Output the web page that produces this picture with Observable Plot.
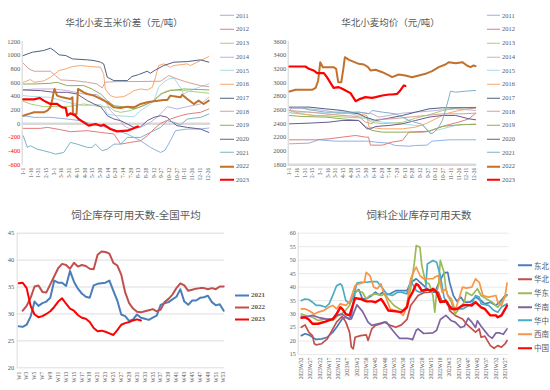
<!DOCTYPE html>
<html><head><meta charset="utf-8">
<script src="https://cdn.jsdelivr.net/npm/d3@7"></script>
<script src="https://cdn.jsdelivr.net/npm/@observablehq/plot@0.6"></script>
<style>
body{margin:0;background:#fff}
#c{position:relative;width:550px;height:390px;overflow:hidden;background:#fff}
.t{position:absolute;font-family:"Noto Sans CJK SC","Noto Sans",sans-serif;color:#595959;white-space:nowrap;transform:translate(-50%,-50%);line-height:1}
.lg{position:absolute;display:flex;align-items:center;white-space:nowrap;color:#595959;transform:translateY(-50%);line-height:1}
.sw{display:inline-block;margin-right:2px}
</style></head><body><div id="c"></div><script>
// ---------- shared labels ----------
const years = ["2011","2012","2013","2014","2015","2016","2017","2018","2019","2020","2021","2022","2023"];
const yearColors = ["#8eb4e3","#e47b7b","#a9cf79","#c2b2dc","#a6dbe9","#f9a86a","#4c5f82","#d5a09a","#8fac5a","#6b5b8e","#7fb2c4","#c1712b","#ff0000"];
const dayTicks = d3.range(0, 361, 15);
const dayLabels = ["1-1","1-16","1-31","2-15","3-1","3-16","3-31","4-15","4-30","5-15","5-30","6-14","6-29","7-14","7-29","8-13","8-28","9-12","9-27","10-12","10-27","11-11","11-26","12-11","12-26"];
const spreadTicks = [-600,-400,-200,0,200,400,600,800,1000,1200];
const priceTicks = [1800,2000,2200,2400,2600,2800,3000,3200,3400,3600];

// ---------- 华北小麦玉米价差 [day, 元/吨] ----------
const sp2011 = [[0,117],[21,93],[53,93],[86,68],[112,44],[138,-15],[164,-54],[183,-102],[203,-151],[229,-249],[248,-346],[268,-420],[277,-385],[287,-249],[297,-102],[320,-78],[346,-78],[362,-63]];
const sp2012 = [[0,-68],[34,-68],[47,-54],[66,-78],[92,-117],[125,-102],[151,-127],[177,-151],[190,-298],[209,-273],[229,-249],[242,-176],[255,-78],[268,5],[287,68],[307,117],[320,141],[346,166],[362,215]];
const sp2013 = [[0,327],[14,288],[40,249],[86,249],[118,288],[151,249],[170,239],[177,190],[190,166],[209,190],[229,249],[255,337],[274,458],[287,493],[313,483],[346,458],[362,444]];
const sp2014 = [[0,493],[21,507],[60,507],[86,483],[118,434],[144,424],[160,337],[170,190],[180,117],[190,44],[196,-29],[209,-78],[229,-54],[248,20],[261,93],[274,190],[281,249],[300,215],[320,249],[346,288],[362,385]];
const sp2015 = [[0,410],[21,395],[53,385],[86,312],[118,263],[151,278],[157,249],[164,141],[183,117],[216,102],[229,190],[248,288],[255,337],[264,532],[274,605],[284,654],[294,668],[307,522],[313,434],[326,483],[346,541],[362,580]];
const sp2016 = [[0,605],[14,644],[21,605],[40,624],[53,678],[70,776],[83,800],[96,834],[112,849],[131,834],[151,824],[157,717],[160,507],[170,410],[180,385],[196,395],[206,434],[216,483],[229,507],[242,493],[252,532],[258,678],[264,849],[274,873],[287,824],[294,849],[320,873],[326,849],[346,922],[362,980]];
const sp2017 = [[0,995],[18,1044],[40,1068],[53,1102],[60,1068],[70,1005],[83,995],[96,946],[125,932],[138,922],[151,898],[157,873],[164,678],[177,629],[203,629],[212,688],[225,717],[242,766],[248,737],[258,785],[274,849],[294,898],[320,907],[346,932],[362,898]];
const sp2018 = [[0,883],[11,800],[21,766],[53,766],[63,702],[73,639],[99,629],[125,605],[144,580],[154,522],[160,605],[183,615],[216,615],[268,620],[281,688],[284,702],[300,654],[320,605],[346,556],[362,541]];
const sp2019 = [[0,580],[21,580],[53,590],[66,605],[86,556],[118,556],[134,507],[151,434],[164,337],[177,263],[203,239],[216,215],[235,263],[255,337],[268,434],[287,483],[313,507],[362,493]];
const sp2020 = [[0,493],[34,483],[60,458],[86,458],[105,434],[125,337],[138,288],[151,249],[157,190],[164,117],[177,68],[190,44],[203,-5],[216,-54],[229,-44],[242,44],[255,93],[268,117],[281,93],[287,44],[300,-29],[320,-54],[346,-78],[362,-127]];
const sp2021 = [[0,-176],[8,-346],[14,-322],[27,-371],[40,-395],[53,-420],[63,-444],[79,-420],[92,-273],[105,-298],[125,-346],[134,-346],[141,-298],[147,-346],[154,-395],[164,-371],[177,-298],[190,-298],[203,-200],[229,-200],[248,-127],[268,-54],[281,44],[294,20],[307,-15],[320,68],[346,93],[362,141]];
const sp2022 = [[0,117],[14,151],[21,166],[40,166],[47,190],[53,239],[57,361],[60,483],[61,507],[66,410],[76,385],[92,361],[96,385],[97,141],[104,141],[107,507],[118,458],[125,434],[138,410],[151,361],[164,312],[177,239],[190,229],[203,249],[216,239],[229,288],[242,312],[255,327],[274,346],[281,346],[287,410],[300,395],[307,385],[310,424],[320,361],[333,288],[342,337],[352,288],[362,337]];
const sp2023 = [[0,356],[21,356],[32,376],[40,337],[53,288],[66,288],[76,239],[83,229],[86,117],[92,151],[102,117],[108,68],[118,20],[128,-29],[141,-5],[151,-29],[157,-15],[170,-78],[183,-112],[203,-102],[212,-78],[222,-44],[224,-44]];
const spreadSeries = [sp2011,sp2012,sp2013,sp2014,sp2015,sp2016,sp2017,sp2018,sp2019,sp2020,sp2021,sp2022,sp2023];

// ---------- 华北小麦均价 [day, 元/吨] ----------
const pr2011 = [[0,2106],[38,2116],[57,2165],[89,2145],[154,2145],[168,2131],[194,2116],[206,2082],[233,2072],[246,2082],[268,2087],[278,2145],[311,2165],[363,2165]];
const pr2012 = [[0,2165],[51,2165],[77,2179],[103,2204],[129,2228],[148,2204],[154,2204],[158,2087],[181,2087],[200,2131],[220,2155],[233,2277],[259,2277],[272,2287],[285,2325],[304,2374],[330,2423],[350,2471],[363,2554]];
const pr2013 = [[0,2560],[25,2540],[51,2520],[103,2500],[148,2480],[161,2420],[181,2400],[220,2420],[246,2480],[272,2530],[298,2590],[324,2630],[363,2640]];
const pr2014 = [[0,2627],[38,2617],[70,2593],[103,2544],[135,2569],[161,2544],[174,2496],[194,2520],[220,2554],[246,2569],[272,2583],[298,2603],[324,2617],[363,2593]];
const pr2015 = [[0,2569],[38,2569],[70,2554],[103,2569],[135,2520],[161,2447],[181,2423],[220,2398],[246,2374],[259,2374],[278,2252],[285,2301],[298,2325],[324,2374],[363,2398]];
const pr2016 = [[0,2593],[25,2544],[44,2520],[70,2520],[103,2554],[135,2544],[151,2520],[155,2350],[181,2325],[220,2325],[246,2350],[265,2398],[285,2471],[304,2544],[330,2593],[363,2632]];
const pr2017 = [[0,2642],[38,2642],[70,2617],[103,2593],[135,2544],[148,2496],[168,2447],[187,2471],[220,2520],[246,2569],[272,2617],[298,2632],[363,2632]];
const pr2018 = [[0,2593],[38,2569],[70,2544],[103,2520],[135,2505],[148,2423],[161,2398],[168,2462],[200,2471],[233,2496],[265,2520],[298,2544],[337,2544],[363,2554]];
const pr2019 = [[0,2520],[25,2505],[70,2496],[103,2471],[135,2447],[148,2360],[161,2301],[181,2277],[233,2277],[272,2291],[298,2360],[337,2389],[363,2389]];
const pr2020 = [[0,2398],[38,2408],[77,2423],[103,2447],[135,2447],[151,2325],[158,2325],[168,2360],[194,2374],[220,2398],[246,2447],[272,2496],[298,2520],[324,2520],[350,2471],[363,2457]];
const pr2021 = [[0,2593],[5,2632],[25,2632],[38,2603],[70,2569],[135,2569],[155,2544],[161,2593],[181,2569],[207,2544],[233,2447],[259,2389],[275,2252],[281,2270],[291,2350],[298,2447],[304,2593],[311,2788],[314,2875],[324,2860],[343,2875],[363,2885]];
const pr2022 = [[0,2870],[12,2895],[44,2895],[51,2924],[56,3031],[60,3298],[65,3225],[86,3225],[91,3201],[95,3006],[101,3006],[105,3201],[108,3371],[116,3332],[135,3274],[145,3264],[153,3225],[158,3177],[168,3187],[181,3152],[194,3104],[200,3079],[213,3118],[226,3104],[239,3079],[252,3104],[265,3128],[278,3167],[291,3225],[304,3264],[311,3298],[324,3284],[337,3298],[346,3250],[353,3225],[359,3250],[363,3240]];
const pr2023 = [[0,3235],[31,3235],[38,3201],[47,3177],[54,3138],[67,3138],[73,3079],[86,2924],[96,2934],[103,2909],[112,2875],[119,2846],[129,2729],[138,2763],[148,2788],[161,2778],[168,2788],[181,2812],[194,2826],[200,2826],[210,2836],[216,2885],[223,2958],[226,2950]];
const priceSeries = [pr2011,pr2012,pr2013,pr2014,pr2015,pr2016,pr2017,pr2018,pr2019,pr2020,pr2021,pr2022,pr2023];

// ---------- 饲企库存可用天数-全国平均 (W1..W53) ----------
const natYears = ["2021","2022","2023"];
const natColors = ["#4a7ebb","#c0504d","#ff0000"];
const blLabels = ["W1","W3","W5","W7","W9","W11","W13","W15","W17","W19","W21","W23","W25","W27","W29","W31","W33","W35","W37","W39","W41","W43","W45","W47","W49","W51","W53"];
const blTicks = [20,25,30,35,40,45];
const nat2021 = [27.7,27.6,28.0,29.5,32.3,31.5,32.0,32.3,33.0,36.2,35.8,35.8,35.2,38.0,36.0,34.7,33.8,33.2,33.0,35.3,35.6,35.7,35.8,36.2,34.3,32.5,29.9,29.6,28.7,29.0,29.9,29.3,29.1,28.9,29.3,29.7,31.7,32.0,32.2,32.7,33.2,34.6,32.3,31.7,32.5,32.5,33.0,33.1,33.4,32.2,31.6,31.8,30.6];
const nat2022 = [null,30.6,31.5,33.0,35.1,35.3,34.1,34.0,35.5,37.0,38.5,39.3,39.1,38.4,39.5,38.8,39.1,38.9,38.4,38.3,41.0,41.6,41.5,41.2,39.5,39.0,37.3,34.0,32.0,31.0,30.4,30.3,30.5,30.7,30.9,30.5,30.8,32.2,32.8,33.6,34.8,35.7,35.3,34.3,34.5,34.7,34.8,34.8,34.6,34.8,34.6,35.1,35.1];
const nat2023 = [35.7,35.8,34.8,31.5,29.9,29.4,29.6,30.0,30.5,31.3,32.3,32.9,31.9,31.0,30.6,29.8,29.3,29.1,28.5,27.4,26.8,26.9,26.7,26.4,26.1,27.0,28.0,28.3,28.5,28.8,29.0,28.8];
const natSeries = [nat2021, nat2022, nat2023];

// ---------- 饲料企业库存可用天数 [week index from 2023W32 backwards, days] ----------
const regions = ["东北","华北","华东","华南","华中","西南","中国"];
const regionColors = ["#4a7ebb","#c0504d","#9bbb59","#8064a2","#4bacc6","#f79646","#ff0000"];
const brLabels = ["2023W32","2023W27","2023W22","2023W17","2023W12","2023W7","2023W2","2022W50","2022W45","2022W40","2022W35","2022W30","2022W25","2022W20","2022W15","2022W10","2022W5","2021W52","2021W47","2021W42","2021W37","2021W32","2021W27"];
const brTicks = [15,20,25,30,35,40,45,50,55,60];
const rgDongbei = [[0,22],[2,22.7],[4,22.3],[6,21.4],[8,20.6],[11,20.8],[14,21.4],[17,23.3],[19,25.1],[22,28.2],[24,28.8],[26,28],[27,29.5],[29,38.1],[31,39.1],[33,35.6],[35,35.6],[38,36.9],[40,38.1],[42,37.1],[44,38.1],[45,37.1],[48,37.5],[51,38.7],[54,38.7],[57,38.7],[59,41.6],[62,43.1],[64,41.8],[67,40],[70,38.1],[72,38.1],[74,41.2],[77,45.3],[79,45.5],[80,41.8],[82,36.9],[84,34.7],[86,36.3],[88,34.4],[91,34.4],[94,36.3],[97,35],[99,33.8],[102,34.4],[105,33.2],[107,34.4],[110,36.9],[111,37.1]];
const rgHuabei = [[0,25.1],[2,26],[4,23.3],[6,22],[7,19],[8,18.6],[11,19],[14,20.8],[17,24.5],[19,27],[22,29.2],[24,27],[26,23.3],[27,17.7],[28,17.1],[29,21.4],[32,22],[35,22.3],[36,20.2],[38,24.5],[40,25.8],[43,26.4],[45,27],[48,25.8],[51,25.1],[54,26],[57,28],[59,33.2],[61,35],[63,36.9],[66,37.9],[69,38.1],[71,38.7],[74,38.1],[76,34.4],[79,34.4],[80,31.3],[83,29.5],[87,28.2],[89,26.4],[92,24.5],[94,23.3],[96,24.5],[97,21.4],[99,21.8],[102,18.3],[104,17.3],[106,18.3],[108,17.7],[110,19],[111,20.2]];
const rgHuadong = [[0,30],[2,29.5],[6,28.8],[9,27.6],[13,28.2],[17,27.6],[20,29.5],[23,30.7],[26,33.2],[28,36.9],[30,38.7],[33,38.1],[35,35.6],[37,36.9],[40,37.5],[43,36.9],[45,37.5],[47,35.6],[50,33.2],[53,31.9],[55,31.3],[57,33.2],[59,39.4],[61,49.2],[62,55.4],[64,54.8],[65,48],[67,41.8],[69,41.2],[71,36.9],[72,30.7],[73,38.1],[74,40.6],[75,49.9],[77,45.5],[78,39.4],[79,36.9],[81,34.4],[83,30],[85,31.9],[88,34.4],[89,38.1],[92,36.9],[95,39.4],[97,36.9],[100,35.6],[103,34.4],[106,32.5],[108,34.4],[110,36.3],[111,36.9]];
const rgHuanan = [[0,29.2],[2,28.8],[6,29.5],[9,28.8],[13,28.2],[17,28],[19,29.5],[22,30],[25,28.5],[27,28.2],[30,33.4],[33,31],[36,27],[38,25.8],[42,26.5],[45,27],[46,27],[48,25],[51,22.5],[53,21],[57,21],[59,20.8],[60,20.5],[62,24],[63,24.5],[66,22.8],[71,23],[73,24],[75,28],[78,29.5],[81,27.5],[83,27],[86,25],[88,25.5],[90,28.5],[92,27],[94,25],[95,27.5],[97,25.5],[101,22],[103,21],[105,23],[107,23],[109,22.5],[111,24.5]];
const rgHuazhong = [[0,35],[2,35.6],[4,35.4],[6,34.4],[8,33.2],[10,33.2],[13,32.6],[15,33.8],[17,37],[19,40.5],[21,41.2],[22,40.5],[24,35],[26,34],[28,36],[30,41.5],[32,41.8],[35,41.8],[38,42],[41,42],[44,39.4],[46,37.5],[49,36.9],[52,38.1],[54,38.1],[57,37.5],[59,42.4],[62,38.7],[64,38.1],[67,38.7],[68,48.6],[71,49.9],[73,49.2],[75,44.3],[77,36.3],[79,33.2],[81,32.6],[84,31.9],[87,31.9],[89,32.6],[92,33.8],[94,36.9],[96,36.3],[97,33.8],[101,33.2],[104,31.3],[106,30.7],[108,32.6],[111,33.8]];
const rgXinan = [[0,31.9],[2,31.9],[4,31.3],[7,30],[9,30.7],[12,31.3],[15,32.6],[17,33.2],[19,31.9],[21,33.8],[24,33.2],[26,34.4],[29,40.6],[31,41.2],[34,41.8],[35,45.5],[37,44.3],[39,40],[41,39.4],[43,41.2],[44,38.7],[46,35.6],[48,31.9],[51,31.3],[53,30.7],[55,29.5],[57,33.2],[59,43.1],[61,46.2],[62,47.4],[64,44.3],[66,43.1],[68,43.1],[71,43.1],[72,43.7],[74,44.3],[76,38.1],[78,39.4],[79,36.9],[81,35.6],[83,31.3],[85,35.6],[87,40],[89,39.6],[92,40],[94,43.1],[96,41.8],[98,36.9],[101,36.3],[105,36.9],[106,34.4],[108,33.2],[110,36.9],[111,41.5]];
const rgChina = [[0,28.6],[2,28.8],[4,28],[6,26.4],[9,26.4],[13,27.2],[17,28.2],[19,30],[21,32.5],[22,32],[24,30],[26,29.5],[28,33.8],[29,35.9],[32,35.6],[35,34.7],[38,34.7],[40,34.4],[43,35.6],[44,34.7],[47,31.3],[51,31],[54,30.7],[57,32.5],[58,35.6],[60,38.1],[62,41.2],[63,40.8],[65,38.7],[68,39.1],[70,38.7],[71,39.4],[73,38.1],[75,34.4],[78,35],[79,33.8],[81,31.9],[84,31.9],[87,33.2],[89,33.4],[92,33.2],[94,34.4],[97,32.5],[99,31.9],[102,29.5],[105,29.5],[106,28.8],[108,29.5],[110,31.9],[111,33.2]];
const regionSeries = [rgDongbei,rgHuabei,rgHuadong,rgHuanan,rgHuazhong,rgXinan,rgChina];

// ---------- helpers ----------
const C = document.getElementById("c");
const SERIF = "'Liberation Serif','DejaVu Serif',serif";
const GREY = "#595959";
const plain = d => String(d);
function place(el, left, top) { el.style.position = "absolute"; el.style.left = left + "px"; el.style.top = top + "px"; C.appendChild(el); }
function title(text, cx, cy, size) {
  const d = document.createElement("div"); d.className = "t"; d.textContent = text;
  d.style.left = cx + "px"; d.style.top = cy + "px"; d.style.fontSize = size + "px"; C.appendChild(d);
}
function legend(names, colors, widths, x, y0, dy, swW, font, size, weight) {
  names.forEach((n, i) => {
    const d = document.createElement("div"); d.className = "lg";
    d.style.left = x + "px"; d.style.top = (y0 + i * dy) + "px";
    d.style.fontFamily = font; d.style.fontSize = size + "px"; d.style.fontWeight = weight || "normal";
    const s = document.createElement("span"); s.className = "sw";
    s.style.width = swW + "px"; s.style.height = "0px"; s.style.borderTop = widths[i] + "px solid " + colors[i];
    d.appendChild(s); d.appendChild(document.createTextNode(n)); C.appendChild(d);
  });
}
const lineMarks = (list, colors, widths) => list.map((s, i) => Plot.line(s, {x: d => d[0], y: d => d[1], stroke: colors[i], strokeWidth: widths[i], strokeLinejoin: "round"}));
const topWidths = years.map(y => y === "2023" ? 2.2 : y === "2022" ? 2 : 1);

// ---------- top-left ----------
const tl = Plot.plot({
  width: 215, height: 195, marginLeft: 21.7, marginRight: 5, marginTop: 41, marginBottom: 30.7,
  x: {domain: [-2, 365.3]}, y: {domain: [-600, 1200]}, color: {type: "identity"},
  style: {fontFamily: SERIF, fontSize: "6.5px", color: GREY, background: "transparent"},
  marks: [
    Plot.ruleX([-2], {stroke: "#c8c8c8", strokeWidth: 0.8}),
    Plot.ruleY([0], {stroke: "#d9d9d9", strokeWidth: 2.5}),
    ...lineMarks(spreadSeries, yearColors, topWidths),
    Plot.axisY({ticks: spreadTicks, tickFormat: plain, tickSize: 0, tickPadding: 2, fill: d => d < 0 ? "#ff0000" : GREY, fontSize: 6.5}),
    Plot.axisX({ticks: dayTicks, tickFormat: d => dayLabels[dayTicks.indexOf(d)], tickRotate: -90, tickSize: 0, tickPadding: 3, fontSize: 5.5, fill: GREY})
  ]
});
place(tl, 0, 0);

// ---------- top-right ----------
const tr = Plot.plot({
  width: 215, height: 195, marginLeft: 24.7, marginRight: 1.8, marginTop: 41, marginBottom: 30.7,
  x: {domain: [-2.5, 365]}, y: {domain: [1800, 3600]}, color: {type: "identity"},
  style: {fontFamily: SERIF, fontSize: "6.5px", color: GREY, background: "transparent"},
  marks: [
    Plot.ruleX([-2.5], {stroke: "#c8c8c8", strokeWidth: 0.8}),
    Plot.ruleY([1800], {stroke: "#d9d9d9", strokeWidth: 2.5}),
    ...lineMarks(priceSeries, yearColors, topWidths),
    Plot.axisY({ticks: priceTicks, tickFormat: plain, tickSize: 0, tickPadding: 2, fill: GREY, fontSize: 6.5}),
    Plot.axisX({ticks: dayTicks, tickFormat: d => dayLabels[dayTicks.indexOf(d)], tickRotate: -90, tickSize: 0, tickPadding: 3, fontSize: 5.5, fill: GREY})
  ]
});
place(tr, 263, 0);

// ---------- bottom-left ----------
const bl = Plot.plot({
  width: 230, height: 195, marginLeft: 16.7, marginRight: 6, marginTop: 37.7, marginBottom: 22.7,
  x: {domain: [0.6, 53.2]}, y: {domain: [20, 45]}, color: {type: "identity"},
  style: {fontFamily: SERIF, fontSize: "6.5px", color: GREY, background: "transparent"},
  marks: [
    Plot.ruleY(blTicks, {stroke: "#d9d9d9", strokeWidth: 0.9}),
    Plot.ruleX([0.6], {stroke: "#d9d9d9", strokeWidth: 0.9}),
    ...natSeries.map((s, i) => Plot.line(s, {x: (d, j) => j + 1, y: d => d, stroke: natColors[i], strokeWidth: 2, strokeLinejoin: "round"})),
    Plot.axisY({ticks: blTicks, tickFormat: plain, tickSize: 0, tickPadding: 3, fill: GREY, fontSize: 6.5}),
    Plot.axisX({ticks: d3.range(1, 54, 2), tickFormat: d => blLabels[(d - 1) / 2], tickRotate: -90, tickSize: 0, tickPadding: 4, fontSize: 5.5, fill: GREY})
  ]
});
place(bl, 0, 195);

// ---------- bottom-right ----------
const brW = regions.map(r => r === "中国" ? 2.4 : 1.7);
const br = Plot.plot({
  width: 240, height: 195, marginLeft: 22.7, marginRight: 6.6, marginTop: 37.7, marginBottom: 36,
  x: {domain: [-1.7, 112]}, y: {domain: [15, 60]}, color: {type: "identity"},
  style: {fontFamily: SERIF, fontSize: "6px", color: GREY, background: "transparent"},
  marks: [
    Plot.ruleY(brTicks, {stroke: "#e3e3e3", strokeWidth: 0.8}),
    Plot.ruleX([-1.7], {stroke: "#d9d9d9", strokeWidth: 0.9}),
    ...lineMarks(regionSeries, regionColors, brW),
    Plot.axisY({ticks: brTicks, tickFormat: plain, tickSize: 0, tickPadding: 2.5, fill: GREY, fontSize: 6}),
    Plot.axisX({ticks: d3.range(0, 111, 5), tickFormat: d => brLabels[d / 5], tickRotate: -90, tickSize: 0, tickPadding: 3, fontSize: 5.5, fill: GREY})
  ]
});
place(br, 275, 195);

// ---------- titles ----------
title("华北小麦玉米价差（元/吨）", 124, 22.5, 9.5);
title("华北小麦均价（元/吨）", 390.5, 22.5, 9.5);
title("饲企库存可用天数-全国平均", 136, 214.5, 10.5);
title("饲料企业库存可用天数", 419, 214.5, 10.5);

// ---------- legends ----------
legend(years, yearColors, years.map(y => y === "2023" ? 2.5 : y === "2022" ? 2.2 : 1.3), 220, 15.7, 13.7, 14, SERIF, 6.5);
legend(years, yearColors, years.map(y => y === "2023" ? 2.5 : y === "2022" ? 2.2 : 1.3), 487, 15.7, 13.7, 13, SERIF, 6.5);
legend(natYears, natColors, [2.5, 2.5, 2.5], 235, 295, 12.2, 14, SERIF, 7, "bold");
legend(regions, regionColors, regions.map(() => 2.5), 518, 265.7, 13.7, 14, "'Noto Sans CJK SC',sans-serif", 7.5);
</script></body></html>
